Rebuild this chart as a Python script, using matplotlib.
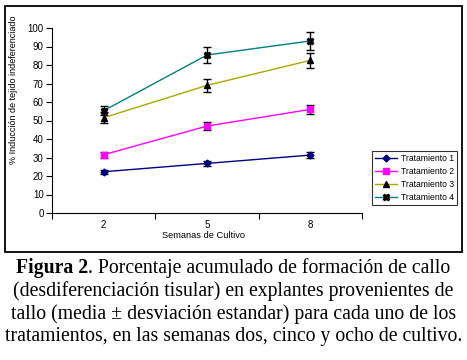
import matplotlib
matplotlib.use("Agg")
import matplotlib.pyplot as plt
from matplotlib.patches import Rectangle

weeks = ["2", "5", "8"]
series_names = ["Tratamiento 1", "Tratamiento 2", "Tratamiento 3", "Tratamiento 4"]
t1 = [22.3, 26.8, 31.3]
t2 = [31.5, 47.0, 56.0]
t3 = [51.5, 69.0, 82.5]
t4 = [55.3, 85.4, 93.0]
e1 = [1.0, 1.3, 1.5]
e2 = [1.5, 2.2, 2.5]
e3 = [3.0, 3.4, 4.0]
e4 = [2.5, 4.3, 4.7]
yticks = [0, 10, 20, 30, 40, 50, 60, 70, 80, 90, 100]

W, H = 467, 360
fig = plt.figure(figsize=(W / 100, H / 100), dpi=100)
fig.patch.set_facecolor("white")

# chart outer border
fig.add_artist(Rectangle((5 / W, 1 - 252 / H), 457 / W, 246 / H, transform=fig.transFigure,
                         fill=False, edgecolor="black", linewidth=1.3))

ax = fig.add_axes([52 / W, 1 - 213 / H, 310 / W, 185 / H])
x = [1, 2, 3]
styles = [
    dict(color="#000080", marker="D", mfc="#000080", mec="#000080", ms=3.5),
    dict(color="#FF00FF", marker="s", mfc="#FF00FF", mec="#FF00FF", ms=4.5),
    dict(color="#A8A800", marker="^", mfc="black", mec="black", ms=4.5),
    dict(color="#008080", marker="X", mfc="black", mec="black", ms=5),
]
data = [t1, t2, t3, t4]
errs = [e1, e2, e3, e4]
handles = []
for vals, err, st, name in zip(data, errs, styles, series_names):
    ax.errorbar(x, vals, yerr=err, fmt="none", ecolor="black", elinewidth=1.0,
                capsize=3, capthick=1.0, zorder=2)
    h, = ax.plot(x, vals, linestyle="-", linewidth=1.0, label=name, zorder=3, **st)
    handles.append(h)

ax.set_xlim(0.5, 3.5)
ax.set_ylim(0, 100)
ax.set_yticks(yticks)
ax.set_yticklabels([str(v) for v in yticks])
ax.set_xticks(x)
ax.set_xticklabels(weeks)
ax.set_xticks([0.5, 1.5, 2.5, 3.5], minor=True)
ax.tick_params(axis="x", which="major", length=0, labelsize=7, pad=5)
ax.tick_params(axis="x", which="minor", length=4, direction="out", width=0.8)
ax.tick_params(axis="y", which="major", length=4, direction="out", width=0.8, labelsize=7, pad=2)
for lab in ax.get_xticklabels() + ax.get_yticklabels():
    lab.set_fontfamily("Liberation Sans")
ax.spines["top"].set_visible(False)
ax.spines["right"].set_visible(False)
ax.spines["left"].set_linewidth(0.8)
ax.spines["bottom"].set_linewidth(0.8)
ax.patch.set_alpha(0)

fig.text(14 / W, 1 - 90 / H, "% Inducción de tejido indeferenciado", rotation=90,
         ha="center", va="center", fontsize=6.5, family="Liberation Sans")
fig.text(204 / W, 1 - 236 / H, "Semanas de Cultivo", ha="center", va="center",
         fontsize=6.7, family="Liberation Sans")

leg = fig.legend(handles=handles, loc="upper left", bbox_to_anchor=(372 / W, 1 - 151 / H),
                 frameon=True, fancybox=False, edgecolor="black",
                 handlelength=2.6, handletextpad=0.4, borderpad=0.35, labelspacing=0.45,
                 borderaxespad=0, prop={"family": "Liberation Sans", "size": 6.2})
leg.get_frame().set_linewidth(0.8)

# caption
cap_lines = [
    "Porcentaje acumulado de formación de callo",
    "(desdiferenciación tisular) en explantes provenientes de",
    "tallo (media ± desviación estandar) para cada uno de los",
    "tratamientos, en las semanas dos, cinco y ocho de cultivo.",
]
ys = [268, 291, 314, 337]
fs = 14.2
fig.canvas.draw()
r = fig.canvas.get_renderer()
tb = fig.text(0, 0, "Figura 2", fontsize=fs, family="Liberation Serif", weight="bold", va="center")
tr = fig.text(0, 0, ". " + cap_lines[0], fontsize=fs, family="Liberation Serif", va="center")
wb = tb.get_window_extent(r).width
wr = tr.get_window_extent(r).width
x0 = (W / 2 - (wb + wr) / 2)
tb.set_position((x0 / W, 1 - ys[0] / H))
tr.set_position(((x0 + wb) / W, 1 - ys[0] / H))
for line, yy in zip(cap_lines[1:], ys[1:]):
    fig.text(0.5, 1 - yy / H, line, ha="center", va="center", fontsize=fs, family="Liberation Serif")

fig.savefig("out.png", dpi=100)
